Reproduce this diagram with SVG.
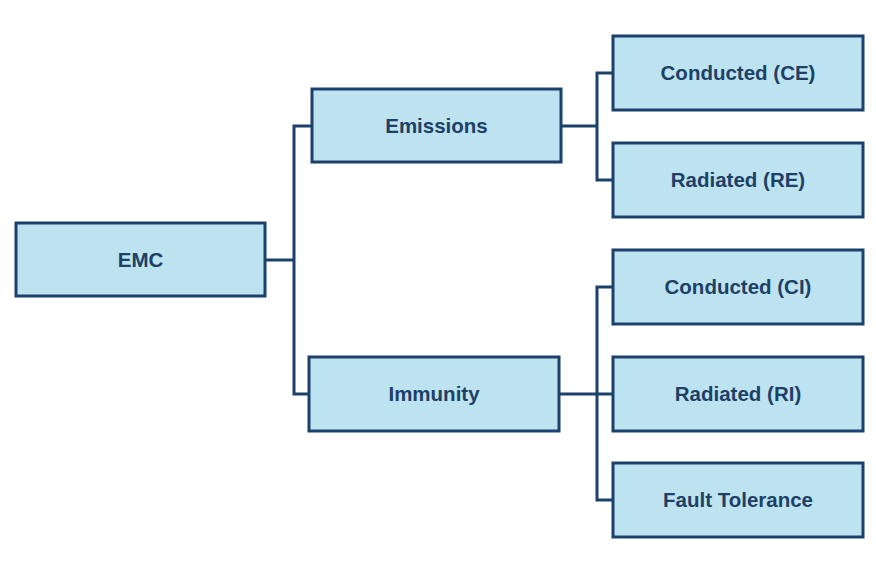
<svg xmlns="http://www.w3.org/2000/svg" width="876" height="561" viewBox="0 0 876 561">
<style>
.box{fill:#bde3f0;stroke:#1b416c;stroke-width:3}
.lbl{font-family:"Liberation Sans",Arial,sans-serif;font-weight:bold;font-size:20.5px;fill:#1e3f66;text-anchor:middle}
.conn{fill:none;stroke:#1b416c;stroke-width:3}
</style>
<rect width="876" height="561" fill="#ffffff"/>
<g id="connectors">
<path class="conn" d="M265,260 H294 M312,126 H294 V394 H309"/>
<path class="conn" d="M561,126 H597 M613,73 H597 V180 H613"/>
<path class="conn" d="M559,394 H613 M613,287 H597 V500 H613"/>
</g>
<g id="emc"><rect class="box" x="16" y="223" width="249" height="73"/><text class="lbl" x="140.5" y="267">EMC</text></g>
<g id="emissions"><rect class="box" x="312" y="89" width="249" height="73"/><text class="lbl" x="436.5" y="133">Emissions</text></g>
<g id="immunity"><rect class="box" x="309" y="357" width="250" height="74"/><text class="lbl" x="434" y="401">Immunity</text></g>
<g id="ce"><rect class="box" x="613" y="36" width="250" height="74"/><text class="lbl" x="738" y="80">Conducted (CE)</text></g>
<g id="re"><rect class="box" x="613" y="143" width="250" height="74"/><text class="lbl" x="738" y="187">Radiated (RE)</text></g>
<g id="ci"><rect class="box" x="613" y="250" width="250" height="74"/><text class="lbl" x="738" y="294">Conducted (CI)</text></g>
<g id="ri"><rect class="box" x="613" y="357" width="250" height="74"/><text class="lbl" x="738" y="401">Radiated (RI)</text></g>
<g id="ft"><rect class="box" x="613" y="463" width="250" height="74"/><text class="lbl" x="738" y="507">Fault Tolerance</text></g>
</svg>
